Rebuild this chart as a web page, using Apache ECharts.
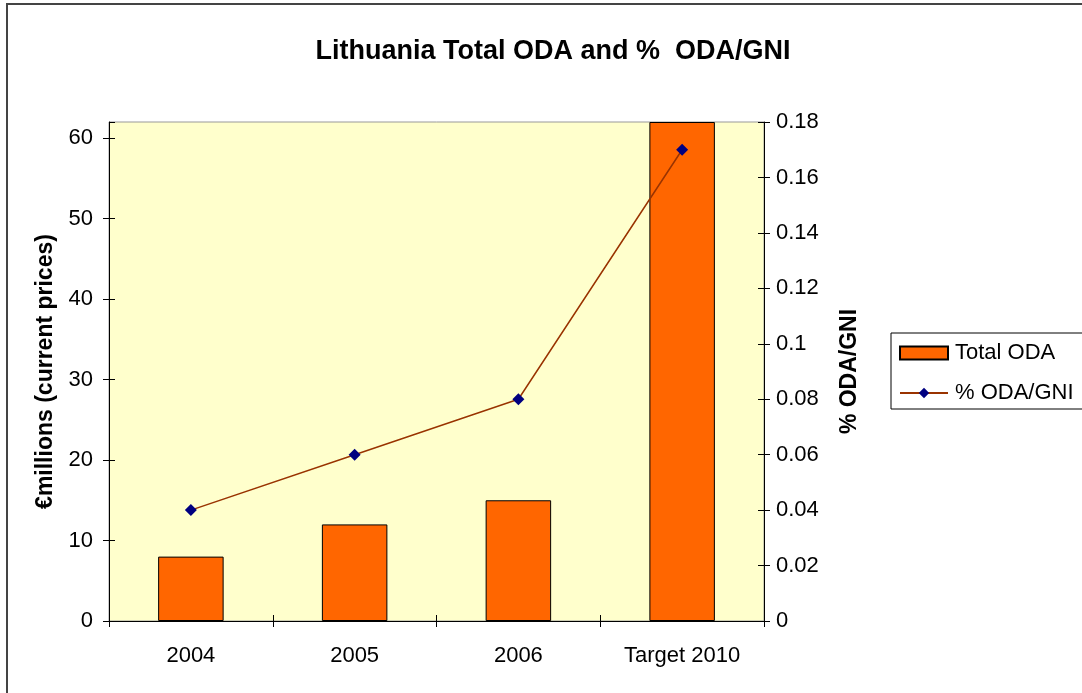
<!DOCTYPE html>
<html lang="en">
<head>
    <meta charset="UTF-8">
    <script src="https://cdn.jsdelivr.net/npm/echarts@6/dist/echarts.min.js"></script>
    <title>Lithuania Total ODA</title>
    <style>
        body { margin: 0; background: #fff; }
    </style>
</head>
<body>
<div id="main" style="width: 1082px;height:693px;"></div>
<script>
    // values
    var categories = ['2004', '2005', '2006', 'Target 2010'];
    var totalOda = [8, 12, 15, 62];
    var odaGni = [0.04, 0.06, 0.08, 0.17];

    var font = 'Liberation Sans, Arial, sans-serif';
    var labelStyle = {fontFamily: font, fontSize: 22, color: '#000'};

    // copies of the axes that only draw the inner half of each tick,
    // so the ticks cross the axis line like in the original
    function innerTicks(axis) {
        return Object.assign(axis, {
            axisLine: {show: false},
            axisTick: {show: true, inside: true, length: 6, lineStyle: {color: '#000'}},
            axisLabel: {show: false},
            splitLine: {show: false}
        });
    }

    var myChart = echarts.init(document.getElementById('main'));
    var option = {
        backgroundColor: '#fff',
        animation: false,
        title: {
            text: 'Lithuania Total ODA and %  ODA/GNI',
            left: 548,
            top: 33,
            textAlign: 'center',
            textStyle: {fontFamily: font, fontSize: 27, fontWeight: 'bold', color: '#000'}
        },
        graphic: [{
            type: 'rect',
            shape: {x: 7, y: 4, width: 1100, height: 720},
            style: {fill: 'none', stroke: '#444', lineWidth: 2},
            silent: true
        }],
        legend: {
            orient: 'vertical',
            left: 891,
            top: 333,
            padding: [9, 30, 5, 8],
            itemGap: 18,
            itemWidth: 48,
            itemHeight: 13,
            borderColor: '#000',
            borderWidth: 1,
            textStyle: {fontFamily: font, fontSize: 22, color: '#000', padding: [0, 0, 0, 2]},
            data: [{name: 'Total ODA', icon: 'rect'}, '% ODA/GNI']
        },
        grid: {
            left: 109,
            right: 318,
            top: 122,
            bottom: 72,
            show: true,
            backgroundColor: '#FFFFCC',
            borderColor: '#999',
            borderWidth: 1
        },
        xAxis: [{
            type: 'category',
            data: categories,
            axisLine: {lineStyle: {color: '#000'}},
            axisTick: {show: true, length: 6, lineStyle: {color: '#000'}},
            axisLabel: Object.assign({margin: 24}, labelStyle)
        }, innerTicks({
            type: 'category',
            data: categories,
            position: 'bottom'
        })],
        yAxis: [{
            type: 'value',
            min: 0,
            max: 62,
            interval: 10,
            name: '€millions (current prices)',
            nameLocation: 'middle',
            nameGap: 52,
            nameTextStyle: {fontFamily: font, fontSize: 23, fontWeight: 'bold', color: '#000'},
            axisLine: {show: true, lineStyle: {color: '#000'}},
            axisTick: {show: true, length: 6, lineStyle: {color: '#000'}},
            axisLabel: Object.assign({margin: 16, showMaxLabel: false}, labelStyle),
            splitLine: {show: false}
        }, {
            type: 'value',
            min: 0,
            max: 0.18,
            interval: 0.02,
            position: 'right',
            name: '% ODA/GNI',
            nameLocation: 'middle',
            nameGap: 74,
            nameRotate: 90,
            nameTextStyle: {fontFamily: font, fontSize: 23, fontWeight: 'bold', color: '#000'},
            axisLine: {show: true, lineStyle: {color: '#000'}},
            axisTick: {show: true, length: 6, lineStyle: {color: '#000'}},
            axisLabel: Object.assign({margin: 12}, labelStyle),
            splitLine: {show: false}
        }, innerTicks({
            type: 'value', min: 0, max: 62, interval: 10, position: 'left'
        }), innerTicks({
            type: 'value', min: 0, max: 0.18, interval: 0.02, position: 'right'
        })],
        series: [{
            name: 'Total ODA',
            type: 'bar',
            yAxisIndex: 0,
            barWidth: '40%',
            itemStyle: {color: '#FF6600', borderColor: '#000', borderWidth: 1},
            data: totalOda
        }, {
            name: '% ODA/GNI',
            type: 'line',
            yAxisIndex: 1,
            symbol: 'diamond',
            symbolSize: 12,
            lineStyle: {color: '#993300', width: 1.5},
            itemStyle: {color: '#000080'},
            data: odaGni
        }]
    };
    myChart.setOption(option);
</script>
</body>
</html>
